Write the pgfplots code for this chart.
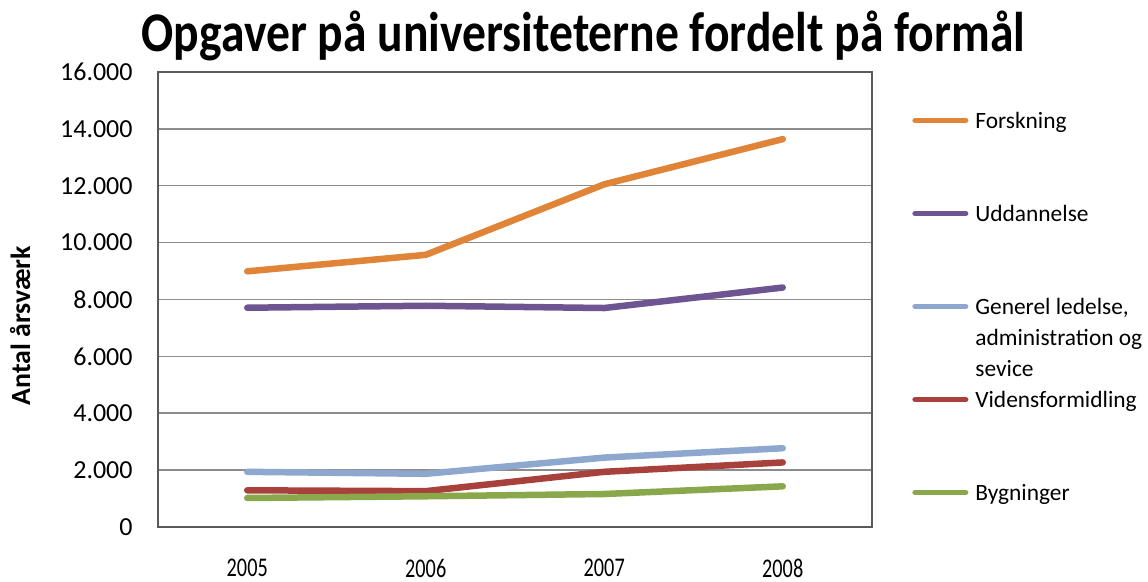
\documentclass[border=0pt]{standalone}
\usepackage{fontspec}
\setmainfont{Carlito}
\usepackage{graphicx}
\usepackage{pgfplots}
\pgfplotsset{compat=1.18}
\definecolor{cFor}{RGB}{224,132,56}
\definecolor{cUdd}{RGB}{110,84,145}
\definecolor{cGen}{RGB}{141,167,206}
\definecolor{cVid}{RGB}{168,64,60}
\definecolor{cByg}{RGB}{137,167,75}
\newcommand{\xl}[1]{\scalebox{0.75}[1]{#1}}

\begin{document}
\begin{tikzpicture}
\begin{axis}[
    at={(0,0)}, anchor=south west,
    scale only axis,
    width=357pt, height=227.5pt,
    xmin=-0.5, xmax=3.5,
    ymin=0, ymax=16000,
    xtick={0,1,2,3},
    xticklabels={\xl{2005},\xl{2006},\xl{2007},\xl{2008}},
    ytick={0,2000,...,16000},
    scaled y ticks=false,
    /pgf/number format/.cd, 1000 sep={.}, assume math mode=true, /pgfplots/.cd,
    tick style={draw=none},
    ymajorgrids,
    grid style={draw=black!45, line width=0.75pt},
    axis line style={draw=black!65, line width=0.9pt},
    yticklabel style={anchor=east, inner sep=0pt, xshift=-12.5pt, font=\fontsize{13}{15}\selectfont},
    xticklabel style={anchor=north, inner sep=0pt, yshift=-16pt, font=\fontsize{13.5}{15}\selectfont},
    ylabel={Antal årsværk},
    ylabel style={at={(axis description cs:-0.193,0.442)}, anchor=center, font=\fontsize{13.9}{16}\selectfont\bfseries},
    title={\scalebox{0.85}[1]{Opgaver på universiteterne fordelt på formål}},
    title style={at={(axis description cs:0.596,1.044)}, anchor=base, inner sep=0pt, yshift=-6pt, font=\fontsize{28}{32}\selectfont\bfseries},
    legend cell align=left,
    legend image code/.code={\draw[#1, line width=2.6pt, line cap=round] (1.3pt,0pt) -- (26.7pt,0pt);},
    legend style={at={(axis description cs:1.056,0.9967)}, anchor=north west, draw=none, fill=none,
        inner sep=0pt, row sep=0pt, column sep=3.5pt,
        nodes={inner sep=0pt, text height=27.25pt, text depth=19.25pt, font=\fontsize{11.7}{15.5}\selectfont}},
    every axis plot/.append style={line width=3.25pt, line cap=round, line join=round},
]
\addplot[cFor] coordinates {(0,8990) (1,9570) (2,12050) (3,13640)};
\addlegendentry{Forskning}
\addplot[cUdd] coordinates {(0,7710) (1,7780) (2,7700) (3,8420)};
\addlegendentry{Uddannelse}
\addplot[cGen] coordinates {(0,1940) (1,1870) (2,2440) (3,2770)};
\addlegendentry{\vtop{\hbox{Generel ledelse,}\hbox{administration og}\hbox{sevice}}}
\addplot[cVid] coordinates {(0,1290) (1,1260) (2,1940) (3,2270)};
\addlegendentry{Vidensformidling}
\addplot[cByg] coordinates {(0,1020) (1,1080) (2,1160) (3,1430)};
\addlegendentry{Bygninger}
\end{axis}
\path[use as bounding box] (-79pt,-27.5pt) rectangle (495pt,263.5pt);
\end{tikzpicture}
\end{document}
